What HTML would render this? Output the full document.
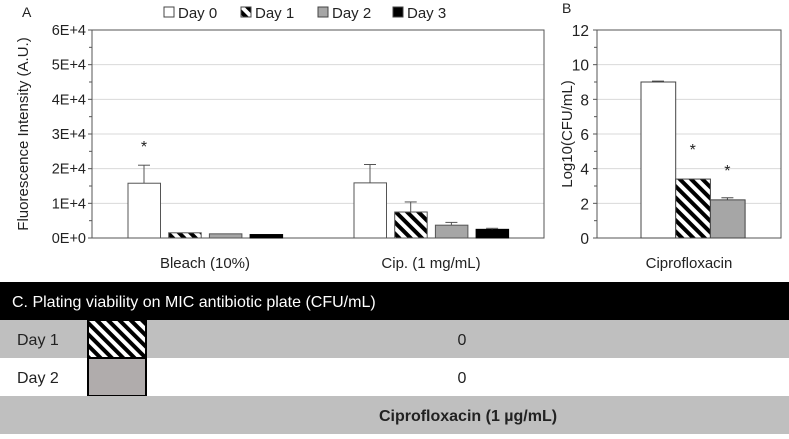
<!DOCTYPE html>
<html><head><meta charset="utf-8">
<style>
body{margin:0;width:789px;height:434px;background:#fff;overflow:hidden;font-family:"Liberation Sans",sans-serif;}
svg text{font-family:"Liberation Sans",sans-serif;fill:#222;}
</style></head>
<body>
<svg id="fig" width="789" height="434" xmlns="http://www.w3.org/2000/svg">
<defs>
<pattern id="hatch" patternUnits="userSpaceOnUse" width="8" height="8" patternTransform="rotate(-45)">
<rect width="8" height="8" fill="#fff"/><rect width="4" height="8" fill="#000"/>
</pattern>
</defs>
</svg>
<script>
const catsA=["Bleach (10%)","Cip. (1 mg/mL)"];
const day0A=[15800,15900];
const day1A=[1500,7500];
const day2A=[1200,3700];
const day3A=[1000,2500];
const errA0=[5200,5300];
const errA1=[0,2900];
const errA2=[0,800];
const errA3=[0,300];
const ticksA=["0E+0","1E+4","2E+4","3E+4","4E+4","5E+4","6E+4"];
const valsB=[9.0,3.4,2.2];
const errB=[0.05,0,0.12];
const ticksB=[0,2,4,6,8,10,12];
const rowsC=["Day 1","Day 2"];
const valsC=["0","0"];

const NS="http://www.w3.org/2000/svg";
const svg=document.getElementById('fig');
function mk(t,a,p){const e=document.createElementNS(NS,t);for(const k in a)e.setAttribute(k,a[k]);(p||svg).appendChild(e);return e;}
function tx(x,y,s,a,p){const e=mk('text',Object.assign({x:x,y:y,'font-size':14},a||{}),p);e.textContent=s;return e;}
const fills=["#fff","url(#hatch)","#a6a6a6","#000"];

// Chart A
const aL=92,aR=544,aT=30,aB=238;
const yA=v=>aB-(v/60000)*(aB-aT);
const gA=mk('g',{});


ticksA.forEach((t,i)=>{const y=yA(i*10000);
 if(i>0){const g=mk('line',{x1:aL,x2:aR,y1:y,y2:y,stroke:'#d9d9d9','stroke-width':1},gA);}
 const l=tx(aL-6,y+5,t,{'text-anchor':'end','font-size':14.5},gA);
 
 
 mk('line',{x1:aL-4,x2:aL,y1:y,y2:y,stroke:'#555'},gA);
 if(i<6){const ym=yA(i*10000+5000);mk('line',{x1:aL-3,x2:aL,y1:ym,y2:ym,stroke:'#555'},gA);}
});
mk('rect',{x:aL,y:aT,width:aR-aL,height:aB-aT,fill:'none',stroke:'#555'},gA);
const series=[day0A,day1A,day2A,day3A];const errs=[errA0,errA1,errA2,errA3];
const grpW=(aR-aL)/catsA.length;
catsA.forEach((c,ci)=>{
 const cx=aL+grpW*(ci+0.5);
 series.forEach((s,si)=>{
  const x=cx-77+si*40.7;const y=yA(s[ci]);
  const b=mk('rect',{x:x,y:y,width:32.5,height:aB-y,fill:fills[si],stroke:si==3?'#000':'#555','stroke-width':1},gA);
  
  
  if(errs[si][ci]>0){const ye=yA(s[ci]+errs[si][ci]);
   mk('line',{x1:x+16,x2:x+16,y1:y,y2:ye,stroke:'#555'},gA);
   mk('line',{x1:x+10,x2:x+22,y1:ye,y2:ye,stroke:'#555'},gA);}
 });
 const cl=tx(cx,268,c,{'text-anchor':'middle','font-size':15},gA);
 
 
});
const s1=tx(144,152,'*',{'text-anchor':'middle','font-size':16},gA);


const yt=tx(0,0,'Fluorescence Intensity (A.U.)',{'text-anchor':'middle','font-size':15,transform:'translate(28,134) rotate(-90)'},gA);


const la=tx(22,17,'A',{'font-size':14},gA);


const legNames=["Day 0","Day 1","Day 2","Day 3"];const legX=[164,241,318,393];
legNames.forEach((n,i)=>{
 const g=mk('g',{},gA);
 
 
 mk('rect',{x:legX[i],y:7,width:10,height:10,fill:i==1?'url(#hatch)':fills[i],stroke:'#444'},g);
 tx(legX[i]+14,18,n,{'font-size':15},g);
});

// Chart B
const bL=597,bR=781,bT=30,bB=238;
const yB=v=>bB-(v/12)*(bB-bT);
const gB=mk('g',{});


ticksB.forEach((t,i)=>{const y=yB(t);
 if(i>0){mk('line',{x1:bL,x2:bR,y1:y,y2:y,stroke:'#d9d9d9'},gB);}
 const l=tx(bL-8,y+6,String(t),{'text-anchor':'end','font-size':15.5},gB);
 
 
 mk('line',{x1:bL-4,x2:bL,y1:y,y2:y,stroke:'#555'},gB);
 if(i<6){const ym=yB(t+1);mk('line',{x1:bL-3,x2:bL,y1:ym,y2:ym,stroke:'#555'},gB);}
});
mk('rect',{x:bL,y:bT,width:bR-bL,height:bB-bT,fill:'none',stroke:'#555'},gB);
valsB.forEach((v,i)=>{
 const x=641+i*34.7;const y=yB(v);
 const b=mk('rect',{x:x,y:y,width:34.7,height:bB-y,fill:fills[i],stroke:'#444'},gB);
 
 
 if(errB[i]>0){const ye=yB(v+errB[i]);mk('line',{x1:x+17,x2:x+17,y1:y,y2:ye,stroke:'#444'},gB);mk('line',{x1:x+11,x2:x+23,y1:ye,y2:ye,stroke:'#444'},gB);}
 if(i>0){const a=tx(x+17,y-24,'*',{'text-anchor':'middle','font-size':16},gB);
  
  }
});
const xb=tx(689,268,'Ciprofloxacin',{'text-anchor':'middle','font-size':15},gB);


const ytb=tx(0,0,'Log10(CFU/mL)',{'text-anchor':'middle','font-size':15,transform:'translate(572,134) rotate(-90)'},gB);


const lb=tx(562,13,'B',{'font-size':14},gB);



// Table C
const gC=mk('g',{});


mk('rect',{x:0,y:282,width:789,height:38,fill:'#000'},gC);
const th=tx(12,307,'C. Plating viability on MIC antibiotic plate (CFU/mL)',{'font-size':16,style:'fill:#fff'},gC);


rowsC.forEach((r,i)=>{
 const y=320+i*38;
 mk('rect',{x:0,y:y,width:789,height:38,fill:i==0?'#bfbfbf':'#fff'},gC);
 const rl=tx(17,y+25,r,{'font-size':16},gC);
 
 
 const rv=tx(462,y+25,valsC[i],{'font-size':16,'text-anchor':'middle'},gC);
 
 
 const sw=mk('rect',{x:88,y:y,width:58,height:38,fill:i==0?'url(#hatch)':'#b0acac',stroke:'#000','stroke-width':2},gC);
 
 
});
mk('rect',{x:0,y:396,width:789,height:38,fill:'#bfbfbf'},gC);
const ft=tx(468,421,'Ciprofloxacin (1 µg/mL)',{'font-size':16,'font-weight':'bold','text-anchor':'middle'},gC);


</script>
</body></html>
